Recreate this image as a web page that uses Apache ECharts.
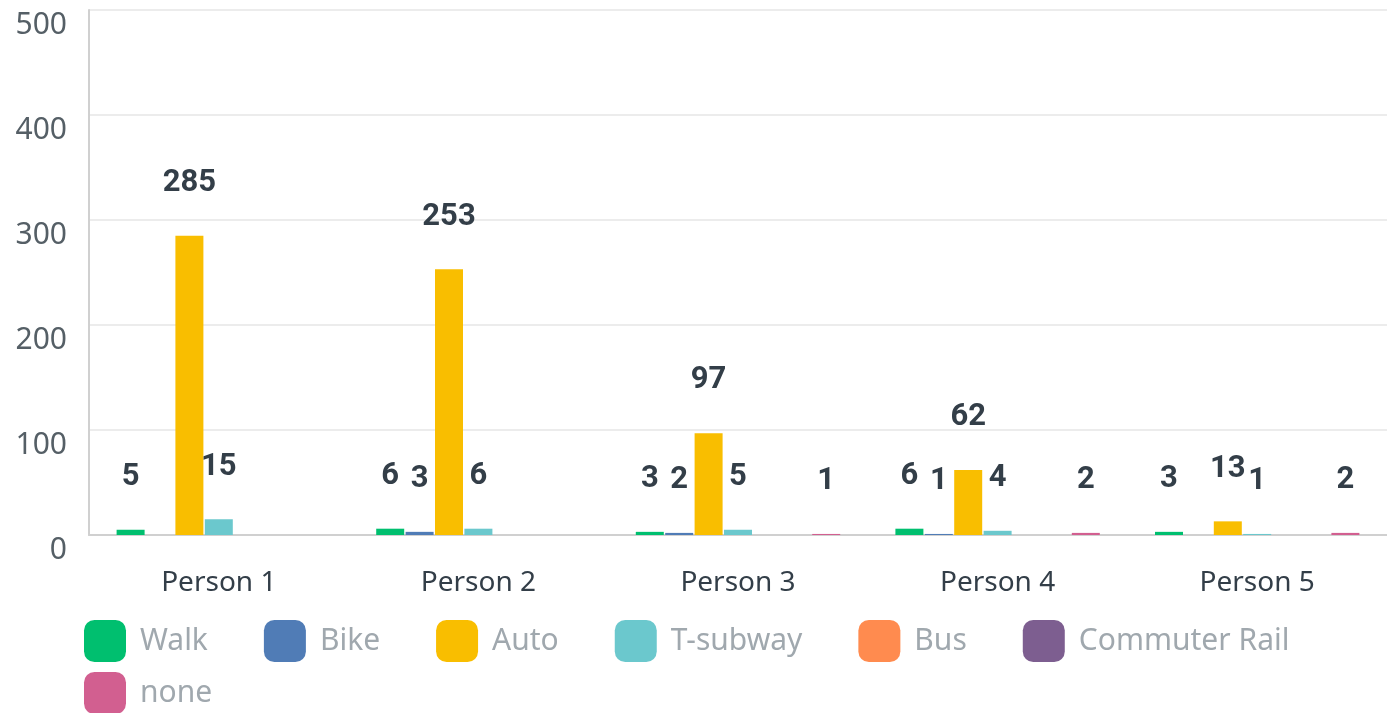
<!DOCTYPE html>
<html>
<head>
<meta charset="utf-8">
<script src="https://cdn.jsdelivr.net/npm/echarts@6/dist/echarts.min.js"></script>
<style>
  html, body { margin: 0; padding: 0; background: #fff; }
  #chart { width: 1387px; height: 713px; }
</style>
</head>
<body>
<div id="chart"></div>
<script>
var categories = ['Person 1', 'Person 2', 'Person 3', 'Person 4', 'Person 5']
var seriesNames = ['Walk', 'Bike', 'Auto', 'T-subway', 'Bus', 'Commuter Rail', 'none']
var walk = [5, 6, 3, 6, 3]
var bike = [0, 3, 2, 1, 0]
var auto = [285, 253, 97, 62, 13]
var tsubway = [15, 6, 5, 4, 1]
var bus = [0, 0, 0, 0, 0]
var commuterRail = [0, 0, 0, 0, 0]
var none = [0, 0, 1, 2, 2]
var yTicks = [0, 100, 200, 300, 400, 500]
var colors = ['#00bf6f', '#507cb6', '#f9be00', '#6bc8cd', '#ff8b4f', '#7d5e90', '#d25f90']

var values = [walk, bike, auto, tsubway, bus, commuterRail, none]
var labelFont = 'Roboto, "Noto Sans", sans-serif'
var textFont = '"Noto Sans", Roboto, sans-serif'

var series = []
for (var i = 0; i < seriesNames.length; i++) {
  series.push({
    name: seriesNames[i],
    type: 'bar',
    barWidth: 28,
    barGap: '5%',
    itemStyle: { color: colors[i] },
    label: {
      show: true,
      position: 'top',
      distance: 37,
      color: '#333e48',
      fontFamily: labelFont,
      fontWeight: 'bold',
      fontSize: 31,
      formatter: function (p) { return p.value > 0 ? p.value : '' }
    },
    data: values[i]
  })
}

var legendText = { color: '#a0a8ae', fontSize: 30, fontFamily: textFont, padding: [3, 0, 0, 9] }

var chart = echarts.init(document.getElementById('chart'))
chart.setOption({
  backgroundColor: '#fff',
  animation: false,
  color: colors,
  grid: {
    left: 89,
    right: -9,
    top: 10,
    bottom: 178
  },
  legend: [{
    data: seriesNames.slice(0, 6),
    left: 84,
    top: 620,
    padding: 0,
    itemWidth: 42,
    itemHeight: 42,
    itemGap: 56,
    icon: 'roundRect',
    textStyle: legendText
  }, {
    data: seriesNames.slice(6),
    left: 84,
    top: 672,
    padding: 0,
    itemWidth: 42,
    itemHeight: 42,
    icon: 'roundRect',
    textStyle: legendText
  }],
  xAxis: {
    type: 'category',
    data: categories,
    axisLine: { lineStyle: { color: '#d0d0d0', width: 2 } },
    axisTick: { show: false },
    axisLabel: { color: '#333e48', fontSize: 28, fontFamily: textFont, margin: 34 }
  },
  yAxis: {
    type: 'value',
    min: yTicks[0],
    max: yTicks[yTicks.length - 1],
    interval: 100,
    axisLine: { show: true, lineStyle: { color: '#d0d0d0', width: 2 } },
    axisTick: { show: false },
    splitLine: { lineStyle: { color: '#ececec', width: 2 } },
    axisLabel: { color: '#555f66', fontSize: 30, fontFamily: textFont, margin: 22, verticalAlign: 'top' }
  },
  series: series
})
</script>
</body>
</html>
